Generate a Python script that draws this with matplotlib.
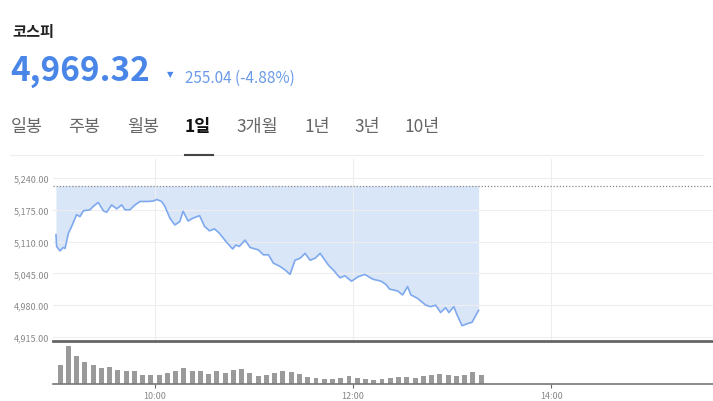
import matplotlib.pyplot as plt
import numpy as np

plt.rcParams['font.family'] = ['Noto Sans CJK KR', 'DejaVu Sans']

# 가격 (9:00 이후 분, 지수)
minutes = [0, 0.4, 2.4, 4.4, 5.5, 7.5, 9.5, 12.5, 14.5, 16.6, 20.6, 22.6, 25.6, 28.7, 30.7,
           33.7, 36.8, 39.8, 41.8, 44.8, 47.9, 50.9, 55.9, 59, 61, 64, 66, 69, 72, 75, 77,
           80, 83, 87, 90, 93, 96, 99, 103, 107, 109, 111, 114.5, 117.6, 122.6, 125.6,
           128.7, 131.7, 135.8, 138.8, 141.8, 144.8, 147.9, 150.9, 153.9, 157, 160, 165,
           168, 172, 175, 179, 183, 187, 192, 197, 200, 202, 207, 210, 213, 215, 219, 224,
           227, 230, 233, 236, 238, 241, 243, 246, 249, 252, 256]
prices = [5124, 5100, 5091, 5098, 5096, 5127, 5141, 5165, 5161, 5173, 5175, 5182,
          5190, 5173, 5170, 5185, 5177, 5185, 5175, 5175, 5185, 5192, 5192, 5193, 5196,
          5192, 5182, 5158, 5144, 5151, 5172, 5152, 5158, 5163, 5141, 5132, 5136, 5127,
          5110, 5095, 5103, 5100, 5113, 5098, 5093, 5083, 5083, 5066, 5059, 5052, 5043,
          5072, 5076, 5086, 5072, 5076, 5086, 5062, 5052, 5036, 5040, 5029, 5038, 5043,
          5033, 5029, 5022, 5013, 5009, 5001, 5018, 5001, 4994, 4980, 4977, 4980, 4965,
          4975, 4965, 4977, 4960, 4938, 4942, 4945, 4969.32]
prev_close = 5224.36

volumes = [57, 113, 83, 67, 57, 49, 52, 43, 38, 38, 28, 28, 28, 32, 38, 48, 38, 38, 30, 40,
           32, 43, 45, 33, 23, 28, 32, 40, 35, 30, 20, 18, 15, 15, 18, 25, 18,
           15, 12, 15, 18, 20, 22, 18, 25, 28, 30, 28, 25, 28, 35, 28]
vol_minutes = [5 * i + 2.5 for i in range(len(volumes))]

y_ticks = [4915, 4980, 5045, 5110, 5175, 5240]
x_ticks = [60, 180, 300]
x_labels = ["10:00", "12:00", "14:00"]
tabs = ["일봉", "주봉", "월봉", "1일", "3개월", "1년", "3년", "10년"]
tab_x = [11, 68, 127, 185, 236, 305, 354, 404]

W, H = 713, 402
fig = plt.figure(figsize=(W / 100, H / 100), dpi=100)
blue = "#4a86e8"

def fy(p):
    return 1 - p / H

fig.text(12 / W, fy(32), "코스피", fontsize=11, fontweight="bold", va="center", color="#222222")
fig.text(10 / W, fy(72), "4,969.32", fontsize=24, fontweight="bold", va="center", color=blue)
fig.text(167 / W, fy(75), "▼", fontsize=6, va="center", color=blue, family="DejaVu Sans")
fig.text(185 / W, fy(78), "255.04 (-4.88%)", fontsize=11, va="center", color="#6b9be8")
for t, x in zip(tabs, tab_x):
    bold = t == "1일"
    fig.text(x / W, fy(127), t, fontsize=12.5, va="center",
             fontweight="bold" if bold else "normal", color="#111111" if bold else "#666666")
fig.add_artist(plt.Line2D([10 / W, 703 / W], [fy(156), fy(156)], color="#eeeeee", lw=0.8))
fig.add_artist(plt.Line2D([185 / W, 213 / W], [fy(156), fy(156)], color="#444444", lw=1.5))

xl = (-1.8, 398)
ax = fig.add_axes([53 / W, fy(342), 1 - 53 / W, (342 - 160) / H])
ax.set_xlim(*xl)
ax.set_ylim(4906.8, 5278.8)
ax.fill_between(minutes, prices, prev_close, color="#d9e6f8", lw=0)
ax.plot(minutes, prices, color="#7fa9ee", lw=1.2)
ax.axhline(prev_close, color="#888888", lw=0.9, ls=(0, (1, 1.5)))
ax.set_yticks(y_ticks)
ax.set_yticklabels([f"{v:,.2f}" for v in y_ticks])
ax.set_xticks(x_ticks)
ax.tick_params(axis="y", length=0, labelsize=6.5, labelcolor="#888888", pad=3)
ax.tick_params(axis="x", length=0, labelbottom=False)
ax.grid(color="#eeeeee", lw=0.8)
for s in ["top", "right", "left"]:
    ax.spines[s].set_visible(False)
ax.spines["bottom"].set_color("#666666")
ax.spines["bottom"].set_linewidth(2)

axv = fig.add_axes([53 / W, fy(385), 1 - 53 / W, (385 - 345) / H])
axv.set_xlim(*xl)
axv.set_ylim(0, 120)
axv.bar(vol_minutes, volumes, width=3.0, color="#9a9a9a")
axv.set_xticks(x_ticks)
axv.set_xticklabels(x_labels)
axv.set_yticks([])
axv.tick_params(axis="x", length=3, labelsize=6.5, labelcolor="#888888", color="#666666", pad=2)
for s in ["top", "right", "left"]:
    axv.spines[s].set_visible(False)
axv.spines["bottom"].set_color("#777777")
axv.spines["bottom"].set_linewidth(1.2)

fig.savefig("out.png", dpi=100)
